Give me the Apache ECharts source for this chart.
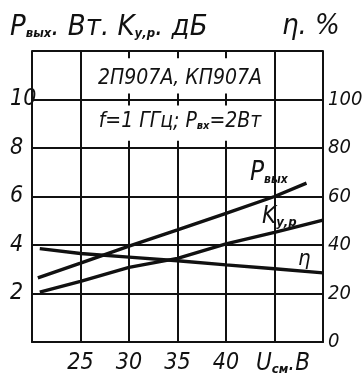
<!DOCTYPE html>
<html>
<head>
<meta charset="utf-8">
<script src="https://cdn.jsdelivr.net/npm/echarts@6/dist/echarts.min.js"></script>
<style>html,body{margin:0;padding:0;background:#fff}#c{width:363px;height:378px}</style>
</head>
<body>
<div id="c"></div>
<script>
// Data
const pOutX = [20.6, 25, 30, 35, 40, 45, 48.3];
const pOut = [2.64, 3.25, 3.95, 4.62, 5.3, 6.0, 6.55];      // Pвых, Вт
const kX = [20.8, 25, 30, 35, 40, 45, 50];
const kGain = [2.06, 2.5, 3.08, 3.45, 4.05, 4.52, 5.03];    // Kу,р, дБ
const etaX = [20.8, 25, 30, 35, 40, 45, 50];
const eta = [38.5, 36.5, 35, 33.5, 31.8, 30.2, 28.5];       // η, %
const xTickLabels = [25, 30, 35, 40];
const leftTickLabels = [2, 4, 6, 8, 10];
const rightTickLabels = [0, 20, 40, 60, 80, 100];

const FF = "'Liberation Sans Narrow','DejaVu Sans Condensed','Liberation Sans',sans-serif";
const INK = '#111';

function pairs(xs, ys) { return xs.map((x, i) => [x, ys[i]]); }

const lineW = 3.4, gridW = 2;
const vLines = [
  [[25, 0], [25, 12]], [[45, 0], [45, 12]],
  [[30, 0], [30, 8]], [[35, 0], [35, 8]], [[40, 0], [40, 8]],
  [[30, 9.75], [30, 10.25]], [[35, 9.75], [35, 10.25]], [[40, 9.75], [40, 10.25]],
  [[30, 11.7], [30, 12]], [[35, 11.7], [35, 12]], [[40, 11.7], [40, 12]],
  [[30, 8], [30, 8.3]], [[35, 8], [35, 8.3]], [[40, 8], [40, 8.3]]
];

const chart = echarts.init(document.getElementById('c'));
const txt = { fontFamily: FF, fontStyle: 'italic', color: INK };
chart.setOption({
  animation: false,
  grid: { left: 32, right: 40, top: 51, bottom: 36, outerBoundsMode: 'none', containLabel: false },
  xAxis: {
    type: 'value', min: 20, max: 50, interval: 5,
    axisLine: { show: true, lineStyle: { color: INK, width: gridW } },
    axisTick: { show: false }, splitLine: { show: false },
    axisLabel: Object.assign({ fontSize: 23, margin: 10,
      formatter: v => xTickLabels.includes(v) ? String(v) : '' }, txt)
  },
  yAxis: [{
    type: 'value', min: 0, max: 12, interval: 2,
    axisLine: { show: true, lineStyle: { color: INK, width: gridW } },
    axisTick: { show: false },
    splitLine: { show: true, lineStyle: { color: INK, width: gridW } },
    axisLabel: Object.assign({ fontSize: 23, margin: 22, align: 'left',
      formatter: v => leftTickLabels.includes(v) ? String(v) : '' }, txt)
  }, {
    type: 'value', min: 0, max: 120, interval: 20, position: 'right',
    axisLine: { show: true, lineStyle: { color: INK, width: gridW } },
    axisTick: { show: false }, splitLine: { show: false },
    axisLabel: Object.assign({ fontSize: 20, margin: 5,
      formatter: v => rightTickLabels.includes(v) ? String(v) : '' }, txt)
  }],
  series: [{
    type: 'line', data: pairs(pOutX, pOut), yAxisIndex: 0, symbol: 'none',
    lineStyle: { color: INK, width: lineW },
    markLine: { silent: true, symbol: 'none', label: { show: false },
      lineStyle: { color: INK, width: gridW, type: 'solid' },
      data: vLines.map(s => [{ coord: s[0] }, { coord: s[1] }]) }
  }, {
    type: 'line', data: pairs(kX, kGain), yAxisIndex: 0, symbol: 'none',
    lineStyle: { color: INK, width: lineW }
  }, {
    type: 'line', data: pairs(etaX, eta), yAxisIndex: 1, symbol: 'none',
    lineStyle: { color: INK, width: lineW }
  }],
  graphic: [
    { type: 'text', x: 10, y: 12, style: { text: '{b|P}{s|вых}{b|. Вт. K}{s|у,р}{b|. дБ}', fill: INK,
      rich: { b: { fontFamily: FF, fontStyle: 'italic', fontSize: 29, lineHeight: 30, verticalAlign: 'bottom' },
              s: { fontFamily: FF, fontStyle: 'italic', fontWeight: 'bold', fontSize: 13, lineHeight: 14, verticalAlign: 'bottom', padding: [0, 0, 2, 0] } } } },
    { type: 'text', x: 282, y: 12, style: { text: 'η. %', fill: INK, font: "italic 29px " + FF } },
    { type: 'text', x: 180, y: 79, style: { text: '2П907А, КП907А', fill: INK, font: "italic 21px " + FF, textAlign: 'center', textVerticalAlign: 'middle' } },
    { type: 'text', x: 180, y: 110, style: { text: '{m|f=1 ГГц; P}{s|вх}{m|=2Вт}', fill: INK, textAlign: 'center',
      rich: { m: { fontFamily: FF, fontStyle: 'italic', fontSize: 21, lineHeight: 22, verticalAlign: 'bottom' },
              s: { fontFamily: FF, fontStyle: 'italic', fontWeight: 'bold', fontSize: 11, lineHeight: 12, verticalAlign: 'bottom' } } } },
    { type: 'text', x: 250, y: 160, style: { text: '{b|P}{s|вых}', fill: INK,
      rich: { b: { fontFamily: FF, fontStyle: 'italic', fontSize: 26, lineHeight: 26, verticalAlign: 'bottom' },
              s: { fontFamily: FF, fontStyle: 'italic', fontWeight: 'bold', fontSize: 12, lineHeight: 12, verticalAlign: 'bottom' } } } },
    { type: 'text', x: 262, y: 205, style: { text: '{b|K}{s|у,р}', fill: INK,
      rich: { b: { fontFamily: FF, fontStyle: 'italic', fontSize: 24, lineHeight: 24, verticalAlign: 'bottom' },
              s: { fontFamily: FF, fontStyle: 'italic', fontWeight: 'bold', fontSize: 13, lineHeight: 13, verticalAlign: 'bottom' } } } },
    { type: 'text', x: 298, y: 248, style: { text: 'η', fill: INK, font: "italic 22px " + FF } },
    { type: 'text', x: 256, y: 352, style: { text: '{b|U}{s|см}{b|.В}', fill: INK,
      rich: { b: { fontFamily: FF, fontStyle: 'italic', fontSize: 24, lineHeight: 24, verticalAlign: 'bottom' },
              s: { fontFamily: FF, fontStyle: 'italic', fontWeight: 'bold', fontSize: 13, lineHeight: 13, verticalAlign: 'bottom' } } } }
  ]
});
</script>
</body>
</html>
